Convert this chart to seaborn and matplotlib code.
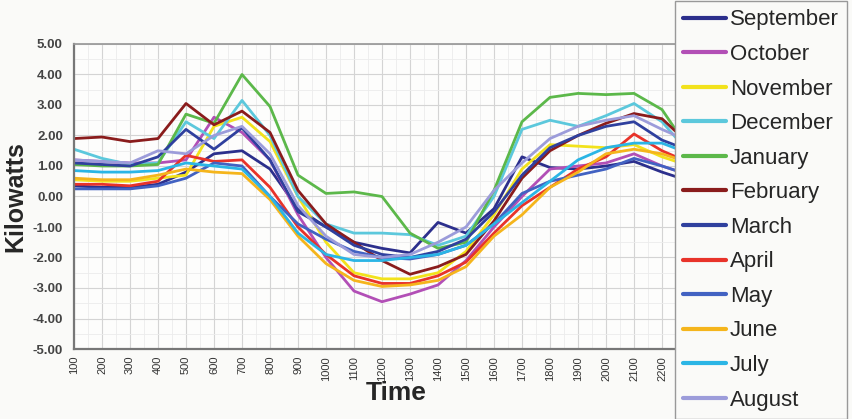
import numpy as np
import pandas as pd
import seaborn as sns
import matplotlib.pyplot as plt
from matplotlib.ticker import MultipleLocator, FormatStrFormatter

# hourly times (100 .. 2400)
times = list(range(100, 2500, 100))

months = ["September", "October", "November", "December", "January", "February",
          "March", "April", "May", "June", "July", "August"]

colours = ["#2c2f8c", "#b24fb6", "#f2e21c", "#5cc8dc", "#5cb84a", "#8a1c1c",
           "#2f409e", "#e8332a", "#4262c2", "#f5b51c", "#2bb5e5", "#9c9cda"]

# kilowatt readings per month
september = [0.35, 0.3, 0.3, 0.4, 0.8, 1.4, 1.5, 0.9, -0.4, -1.0, -1.5, -1.7,
             -1.85, -0.85, -1.2, -0.4, 1.3, 0.95, 0.9, 1.0, 1.15, 0.8, 0.5, 0.4]
october = [1.2, 1.15, 1.1, 1.1, 1.2, 2.6, 2.1, 1.2, -0.6, -2.0, -3.1, -3.45,
           -3.2, -2.9, -2.1, -1.0, 0.0, 0.9, 1.0, 1.1, 1.4, 1.0, 0.7, 0.5]
november = [0.55, 0.5, 0.5, 0.6, 0.7, 2.3, 2.6, 1.8, 0.0, -1.5, -2.5, -2.7,
            -2.7, -2.5, -1.8, -0.6, 0.9, 1.7, 1.65, 1.6, 1.7, 1.3, 1.0, 0.8]
december = [1.55, 1.25, 1.05, 1.1, 2.45, 1.9, 3.15, 2.0, 0.0, -0.9, -1.2, -1.2,
            -1.25, -1.6, -1.3, 0.0, 2.2, 2.5, 2.3, 2.65, 3.05, 2.45, 1.4, 1.2]
january = [1.05, 1.0, 1.0, 1.05, 2.7, 2.4, 4.0, 2.95, 0.7, 0.1, 0.15, 0.0,
           -1.2, -1.7, -1.5, 0.2, 2.45, 3.25, 3.38, 3.34, 3.38, 2.85, 1.5, 1.3]
february = [1.9, 1.95, 1.8, 1.9, 3.05, 2.35, 2.8, 2.1, 0.2, -0.9, -1.5, -2.1,
            -2.55, -2.3, -1.9, -0.8, 0.6, 1.5, 2.0, 2.4, 2.72, 2.55, 1.7, 1.4]
march = [1.1, 1.05, 1.0, 1.3, 2.2, 1.55, 2.25, 1.2, -0.5, -1.0, -1.6, -1.9,
         -2.0, -1.8, -1.4, -0.5, 0.7, 1.6, 2.0, 2.3, 2.45, 1.85, 1.5, 1.2]
april = [0.4, 0.4, 0.35, 0.5, 1.35, 1.15, 1.2, 0.3, -1.0, -1.9, -2.6, -2.85,
         -2.85, -2.6, -2.15, -1.2, -0.3, 0.3, 0.9, 1.3, 2.05, 1.5, 1.1, 0.9]
may = [0.25, 0.25, 0.25, 0.35, 0.6, 1.1, 1.0, 0.0, -0.9, -1.4, -1.8, -2.0,
       -2.05, -1.9, -1.6, -0.9, 0.1, 0.5, 0.7, 0.9, 1.25, 1.0, 0.7, 0.5]
june = [0.6, 0.55, 0.55, 0.7, 0.9, 0.8, 0.75, -0.1, -1.3, -2.2, -2.75, -2.95,
        -2.9, -2.75, -2.3, -1.3, -0.6, 0.3, 0.8, 1.4, 1.55, 1.4, 1.1, 0.9]
july = [0.85, 0.8, 0.8, 0.85, 1.1, 1.0, 0.9, 0.0, -1.2, -1.9, -2.1, -2.1,
        -2.0, -1.9, -1.6, -0.9, -0.2, 0.5, 1.2, 1.6, 1.75, 1.75, 1.4, 1.1]
august = [1.2, 1.15, 1.1, 1.5, 1.4, 2.0, 2.3, 1.4, -0.3, -1.3, -1.9, -2.0,
          -1.9, -1.5, -1.0, 0.2, 1.1, 1.9, 2.3, 2.5, 2.65, 2.2, 1.8, 1.5]

series = [september, october, november, december, january, february,
          march, april, may, june, july, august]

# long-form table for seaborn
rows = []
for month, vals in zip(months, series):
    for t, v in zip(times, vals):
        rows.append({"Time": t, "Kilowatts": v, "Month": month})
df = pd.DataFrame(rows)

sns.set_theme(style="whitegrid")
plt.rcParams["font.family"] = ["Liberation Sans", "DejaVu Sans"]
plt.rcParams["axes.unicode_minus"] = False

fig = plt.figure(figsize=(8.52, 4.19), dpi=100, facecolor="#fafaf8")
ax = fig.add_axes([74 / 852, 70 / 419, 644 / 852, 305 / 419])
ax.set_facecolor("#fdfdfc")

sns.lineplot(data=df, x="Time", y="Kilowatts", hue="Month",
             palette=dict(zip(months, colours)), hue_order=months,
             linewidth=2.0, ax=ax, legend=False)

# axes limits and ticks
ax.set_xlim(100, 2400)
ax.set_ylim(-5, 5)
ax.set_xticks(times)
ax.set_xticklabels([str(t) for t in times], rotation=90, fontsize=8, color="#333333")
ax.yaxis.set_major_locator(MultipleLocator(1))
ax.yaxis.set_major_formatter(FormatStrFormatter("%.2f"))
ax.xaxis.set_minor_locator(MultipleLocator(50))
ax.yaxis.set_minor_locator(MultipleLocator(0.5))
for lab in ax.get_yticklabels():
    lab.set_fontsize(9.5)
    lab.set_fontweight("bold")
    lab.set_color("#444444")
ax.tick_params(axis="x", which="major", length=3, color="#777777", pad=2)
ax.tick_params(axis="y", which="major", length=0, pad=8)
ax.tick_params(which="minor", length=0)

# grid
ax.grid(which="major", color="#d4d4d4", linewidth=0.8)
ax.grid(which="minor", color="#ececec", linewidth=0.6)

for side in ["left", "bottom"]:
    ax.spines[side].set_color("#777777")
    ax.spines[side].set_linewidth(1.6)
ax.spines["top"].set_color("#999999")
ax.spines["right"].set_visible(False)

ax.set_xlabel("Time", fontsize=19, fontweight="bold", labelpad=0)
ax.set_ylabel("Kilowatts", fontsize=18, fontweight="bold", labelpad=4)

# legend box on the right, overlapping the plot
handles = [plt.Line2D([], [], color=c, linewidth=3) for c in colours]
leg = fig.legend(handles, months, loc="upper left",
                 bbox_to_anchor=(675 / 852, 1 - 1 / 419),
                 fontsize=16, frameon=True, fancybox=False,
                 borderaxespad=0, borderpad=0.38, labelspacing=0.61,
                 handlelength=1.9, handletextpad=0.2)
leg.get_frame().set_edgecolor("#999999")
leg.get_frame().set_facecolor("#fafaf8")
leg.get_frame().set_alpha(1)

fig.savefig("out.png", dpi=100, facecolor=fig.get_facecolor())
